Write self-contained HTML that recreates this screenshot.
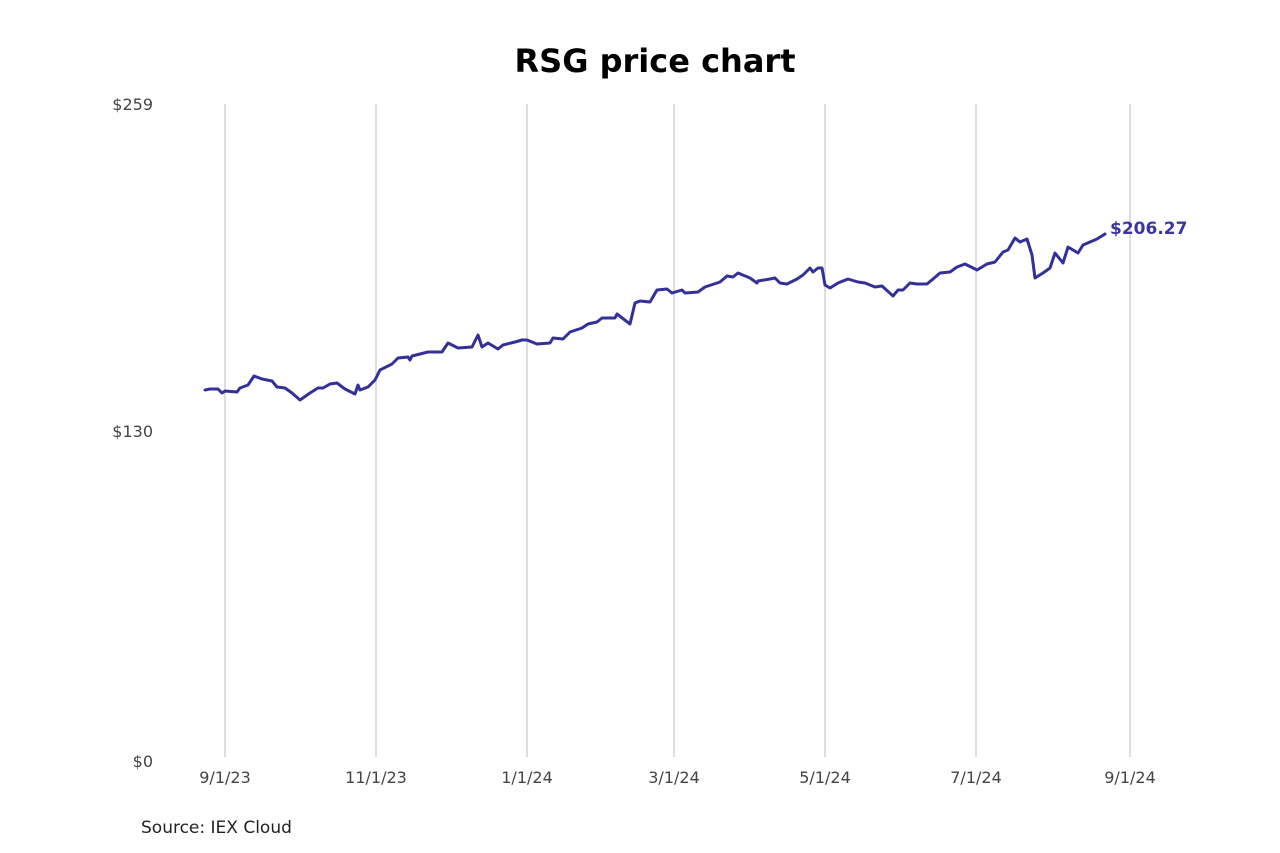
<!DOCTYPE html>
<html><head><meta charset="utf-8"><style>
html,body{margin:0;padding:0;background:#fff;}
svg{display:block;}
</style></head><body>
<svg width="1280" height="853" viewBox="0 0 1280 853" xmlns="http://www.w3.org/2000/svg" font-family="DejaVu Sans, Liberation Sans, sans-serif">
<rect width="1280" height="853" fill="#fff"/>
<text x="655" y="72" text-anchor="middle" font-size="32" font-weight="bold" fill="#000">RSG price chart</text>
<g stroke="#bdbdbd" stroke-width="1">
<line x1="225" y1="104" x2="225" y2="757"/>
<line x1="376" y1="104" x2="376" y2="757"/>
<line x1="527" y1="104" x2="527" y2="757"/>
<line x1="674" y1="104" x2="674" y2="757"/>
<line x1="825" y1="104" x2="825" y2="757"/>
<line x1="976" y1="104" x2="976" y2="757"/>
<line x1="1130" y1="104" x2="1130" y2="757"/>
</g>
<g font-size="16" fill="#444" text-anchor="end">
<text x="153" y="110">$259</text>
<text x="153" y="437">$130</text>
<text x="153" y="767">$0</text>
</g>
<g font-size="16" fill="#444" text-anchor="middle">
<text x="225" y="783">9/1/23</text>
<text x="376" y="783">11/1/23</text>
<text x="527" y="783">1/1/24</text>
<text x="674" y="783">3/1/24</text>
<text x="825" y="783">5/1/24</text>
<text x="976" y="783">7/1/24</text>
<text x="1130" y="783">9/1/24</text>
</g>
<text x="141" y="833" font-size="17" fill="#222">Source: IEX Cloud</text>
<polyline fill="none" stroke="#33309a" stroke-width="3" stroke-linejoin="round" stroke-linecap="round" points="205,390 210,389 218,389 222,393 225,391 237,392 240,388 248,385 254,376 262,379 272,381 277,387 285,388 292,393 300,400 310,393 318,388 323,388 330,384 337,383 345,389 355,394 358,385 360,390 368,387 375,380 380,370 392,364 398,358 408,357 410,360 412,356 428,352 442,352 448,343 458,348 472,347 478,335 482,347 488,343 498,349 503,345 515,342 522,340 527,340 537,344 550,343 553,338 563,339 570,332 582,328 588,324 597,322 602,318 615,318 617,314 630,324 635,303 640,301 650,302 657,290 667,289 672,293 682,290 685,293 698,292 705,287 720,282 727,276 733,277 738,273 750,278 757,283 758,281 770,279 775,278 780,283 787,284 797,279 803,275 810,268 813,272 818,268 822,268 825,285 830,288 838,283 848,279 858,282 865,283 875,287 882,286 893,296 898,290 903,290 910,283 917,284 927,284 933,279 940,273 950,272 957,267 965,264 977,270 987,264 995,262 1003,252 1008,250 1015,238 1020,242 1027,239 1032,255 1035,278 1043,273 1050,268 1055,253 1063,263 1068,247 1078,253 1083,245 1097,239 1105,234"/>
<text x="1110" y="234" font-size="17" font-weight="bold" fill="#3a35a0">$206.27</text>
</svg>
</body></html>
